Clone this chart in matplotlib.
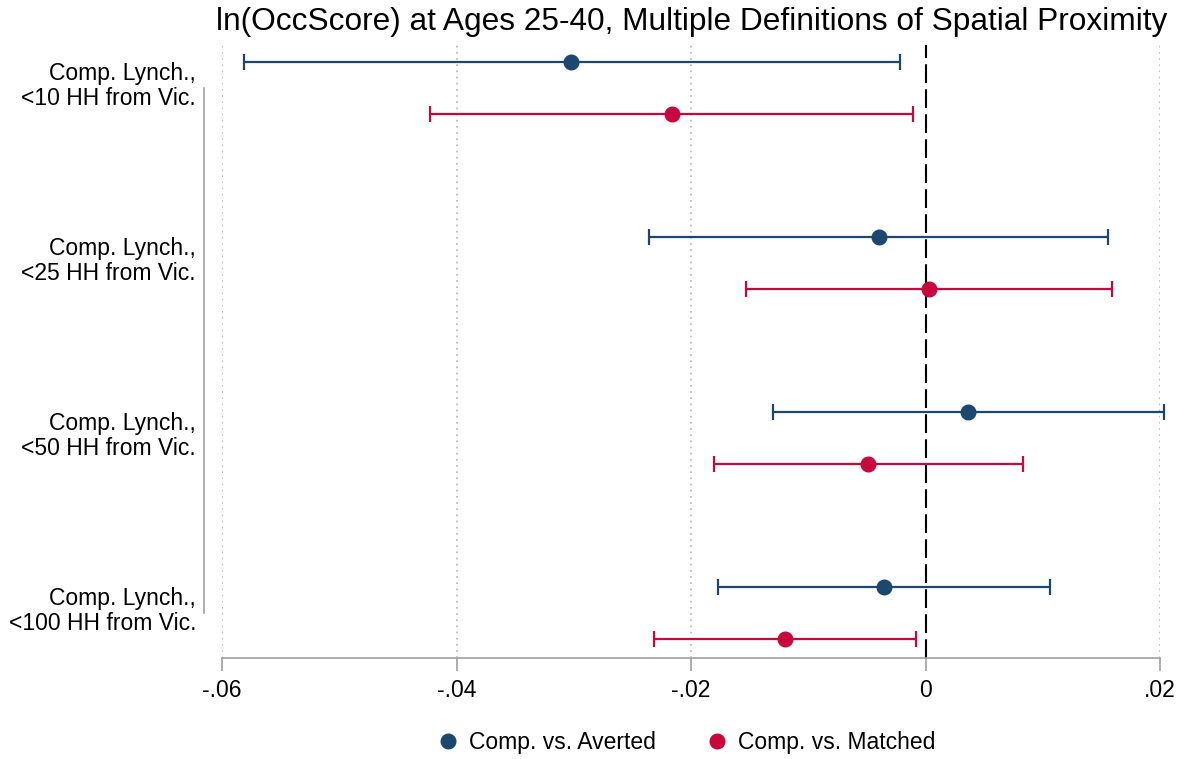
import matplotlib
matplotlib.use("Agg")
import matplotlib.pyplot as plt
from matplotlib.lines import Line2D
from matplotlib.transforms import ScaledTranslation
import numpy as np

plt.rcParams['font.family'] = ['Liberation Sans', 'DejaVu Sans']

categories = ["Comp. Lynch.,\n<10 HH from Vic.", "Comp. Lynch.,\n<25 HH from Vic.",
              "Comp. Lynch.,\n<50 HH from Vic.", "Comp. Lynch.,\n<100 HH from Vic."]
averted_est = [-0.0302, -0.0040, 0.0036, -0.0035]
averted_lo = [-0.0581, -0.0236, -0.0130, -0.0177]
averted_hi = [-0.0022, 0.0156, 0.0203, 0.0106]
matched_est = [-0.0216, 0.0003, -0.0049, -0.0120]
matched_lo = [-0.0423, -0.0153, -0.0180, -0.0232]
matched_hi = [-0.0011, 0.0159, 0.0083, -0.0008]
xticks = [-0.06, -0.04, -0.02, 0, 0.02]
xticklabels = ["-.06", "-.04", "-.02", "0", ".02"]

blue = "#1c4870"
red = "#c8073d"

fig = plt.figure(figsize=(11.86, 7.59), dpi=100)
ax = fig.add_axes([0.1872, 0.1331, 0.9781 - 0.1872, 0.9407 - 0.1331])

pos = np.arange(len(categories))
off = 0.15

for est, lo, hi, sh, col, lab in [(averted_est, averted_lo, averted_hi, -off, blue, "Comp. vs. Averted"),
                                  (matched_est, matched_lo, matched_hi, off, red, "Comp. vs. Matched")]:
    est = np.array(est); lo = np.array(lo); hi = np.array(hi)
    cont = ax.errorbar(est, pos + sh, xerr=[est - lo, hi - est], fmt='o', color=col, ecolor=col,
                       elinewidth=1.6, capsize=5.5, capthick=1.6, markersize=10.5, label=lab, zorder=3)
    for art in cont.get_children():
        art.set_clip_on(False)

for xt in xticks:
    if xt != 0:
        ax.axvline(xt, color="#b4b4b4", linestyle=(0, (1, 2.7)), linewidth=1.2, zorder=0)
ax.axvline(0, color="black", linestyle=(0, (9, 3)), linewidth=1.5, zorder=2)

ax.set_xlim(-0.06, 0.02)
ax.set_ylim(3 + 0.257, -0.246)
ax.set_xticks(xticks)
ax.set_xticklabels(xticklabels)
ax.set_yticks(pos)
ax.set_yticklabels([""] * len(categories))
ax.tick_params(axis='y', length=0)
ax.tick_params(axis='x', length=9, color="#a0a0a0", width=1.2, pad=6, labelsize=16.5)

# category labels, right-aligned just left of the offset y spine
lab_tr = ax.get_yaxis_transform() + ScaledTranslation(-26 / 100, 2 / 100, fig.dpi_scale_trans)
for p, c in zip(pos, categories):
    ax.text(0, p, c, transform=lab_tr, ha='right', va='center', fontsize=16.5,
            linespacing=1.1, clip_on=False)

for s in ['top', 'right']:
    ax.spines[s].set_visible(False)
ax.spines['left'].set_bounds(0, 3)
ax.spines['left'].set_position(('outward', 13))
ax.spines['left'].set_color("#a0a0a0")
ax.spines['left'].set_linewidth(1.2)
ax.spines['bottom'].set_color("#a0a0a0")
ax.spines['bottom'].set_linewidth(1.2)

fig.text(0.5 * (215 + 1168) / 1186, 1 - 22 / 759,
         "ln(OccScore) at Ages 25-40, Multiple Definitions of Spatial Proximity",
         ha='center', va='center', fontsize=22.8)

labels = ["Comp. vs. Averted", "Comp. vs. Matched"]
handles = [Line2D([], [], marker='o', linestyle='none', color=blue, markersize=10.5),
           Line2D([], [], marker='o', linestyle='none', color=red, markersize=10.5)]
fig.legend(handles, labels, loc='center', bbox_to_anchor=(686 / 1186, 1 - 743 / 759), ncol=2,
           frameon=False, fontsize=16.5, handletextpad=0.4, columnspacing=2.2, handlelength=1.0)

fig.savefig("out.png", dpi=100)
